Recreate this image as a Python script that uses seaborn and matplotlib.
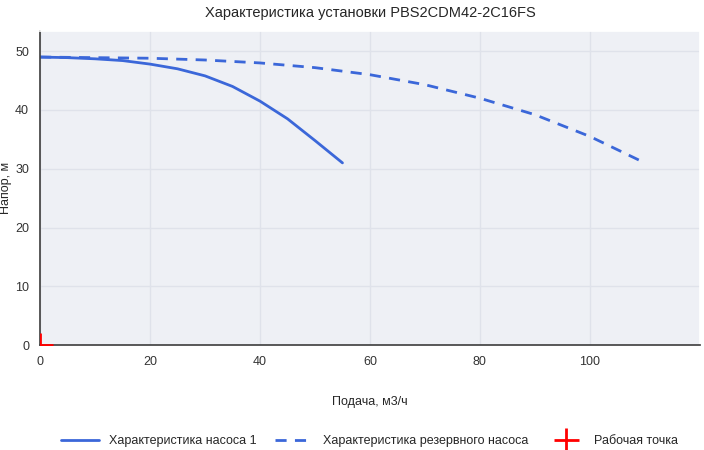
import matplotlib
matplotlib.use("Agg")
import matplotlib.pyplot as plt
import seaborn as sns

q1 = [0, 5, 10, 15, 20, 25, 30, 35, 40, 45, 50, 55]
h1 = [49.0, 48.9, 48.7, 48.4, 47.8, 47.0, 45.8, 44.0, 41.5, 38.5, 34.8, 31.0]
q2 = [0, 10, 20, 30, 40, 50, 60, 70, 80, 90, 100, 110]
h2 = [49.0, 48.9, 48.8, 48.5, 48.0, 47.2, 46.0, 44.3, 42.0, 39.2, 35.5, 31.0]
wq = [0]
wh = [0]

sns.set_theme(style="darkgrid", rc={"axes.facecolor": "#eef0f5", "grid.color": "#dfe2ea"})
plt.rcParams['font.family'] = ['Liberation Sans', 'DejaVu Sans']
fig, ax = plt.subplots(figsize=(7.04, 4.5), dpi=100)
fig.subplots_adjust(left=0.057, right=0.994, top=0.932, bottom=0.233)

sns.lineplot(x=q1, y=h1, ax=ax, color="#3b67d9", lw=2, label="Характеристика насоса 1")
sns.lineplot(x=q2, y=h2, ax=ax, color="#3b67d9", lw=2, ls=(0, (4, 3)), label="Характеристика резервного насоса")
ax.plot(wq, wh, marker="+", color="red", ms=18, mew=2, ls="none", label="Рабочая точка", zorder=5)

ax.set_xlim(0, 120)
ax.set_ylim(0, 53.5)
ax.set_xticks([0, 20, 40, 60, 80, 100])
ax.set_yticks([0, 10, 20, 30, 40, 50])
ax.tick_params(labelsize=9, colors="#333333", pad=2)
ax.set_xlabel("Подача, м3/ч", fontsize=9, labelpad=20)
ax.set_ylabel("Напор, м", fontsize=9, labelpad=2)
ax.set_title("Характеристика установки PBS2CDM42-2C16FS", fontsize=10.5, pad=10)
for s in ["left", "bottom"]:
    ax.spines[s].set_visible(True)
    ax.spines[s].set_color("#444444")
ax.legend(loc="upper center", bbox_to_anchor=(0.5, -0.25), ncol=3, frameon=False, fontsize=9,
          handlelength=3, columnspacing=1.5)
fig.savefig("out.png")
